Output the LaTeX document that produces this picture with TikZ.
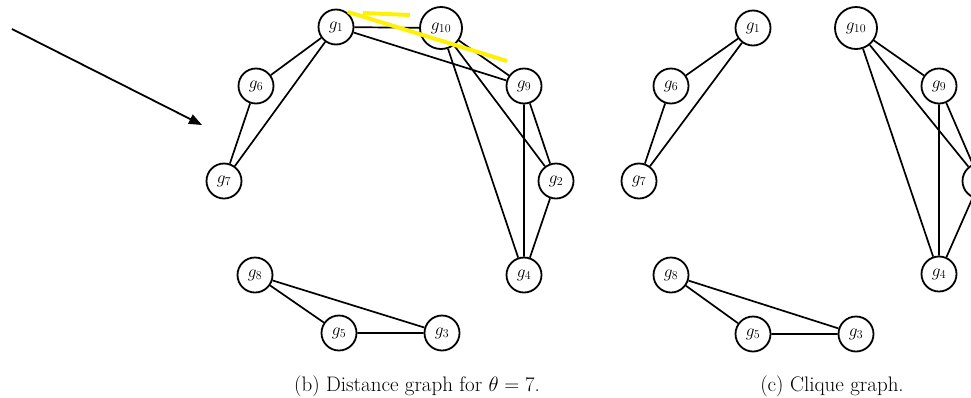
\documentclass[tikz,border=0pt]{standalone}
\usetikzlibrary{arrows.meta}
\begin{document}
\begin{tikzpicture}[x=1pt,y=-1pt,
  vtx/.style={circle,draw,line width=1.8pt,minimum size=35pt,inner sep=0pt,
    font=\fontsize{18}{20}\selectfont},
  wide/.style={minimum size=42pt},
  edge/.style={line width=1.7pt},
  hl/.style={yellow,line width=4pt},
  captext/.style={font=\fontsize{21}{24}\selectfont}]
\clip (0,0) rectangle (971,397);
\fill[white] (0,0) rectangle (971,397);
% ---------- (b) ----------
\node[vtx] (b1) at (336,27) {$g_1$};
\node[vtx,wide] (b10) at (441,28) {$g_{10}$};
\node[vtx] (b6) at (256,86) {$g_6$};
\node[vtx] (b9) at (524,86) {$g_9$};
\node[vtx] (b7) at (224,181) {$g_7$};
\node[vtx] (b2) at (556,181) {$g_2$};
\node[vtx] (b8) at (255,275) {$g_8$};
\node[vtx] (b4) at (524,275) {$g_4$};
\node[vtx] (b5) at (339,333) {$g_5$};
\node[vtx] (b3) at (442,333) {$g_3$};
\draw[edge] (b1)--(b10) (b1)--(b6) (b1)--(b7) (b6)--(b7) (b1)--(b9)
  (b10)--(b9) (b10)--(b2) (b10)--(b4) (b9)--(b2) (b9)--(b4) (b2)--(b4)
  (b8)--(b5) (b8)--(b3) (b5)--(b3);
\node[captext] (capb) at (417,386) {(b) Distance graph for $\theta=7$.};
% ---------- (c) ----------
\node[vtx] (c1) at (753,28) {$g_1$};
\node[vtx,wide] (c10) at (856,28) {$g_{10}$};
\node[vtx] (c6) at (671,86) {$g_6$};
\node[vtx] (c9) at (939,86) {$g_9$};
\node[vtx] (c7) at (639,181) {$g_7$};
\node[vtx] (c2) at (980,181) {$g_2$};
\node[vtx] (c8) at (671,275) {$g_8$};
\node[vtx] (c4) at (939,274) {$g_4$};
\node[vtx] (c5) at (753,334) {$g_5$};
\node[vtx] (c3) at (856,334) {$g_3$};
\draw[edge] (c1)--(c6) (c1)--(c7) (c6)--(c7)
  (c10)--(c9) (c10)--(c2) (c10)--(c4) (c9)--(c2) (c9)--(c4) (c2)--(c4)
  (c8)--(c5) (c8)--(c3) (c5)--(c3);
\node[captext] (capc) at (832,386) {(c) Clique graph.};
% ---------- annotations ----------
\coordinate (a0) at (12,29);
\coordinate (a1) at (202,125);
\draw[line width=1.8pt,-{Triangle[length=13pt,width=10pt]}] (a0)--(a1);
\coordinate (y1) at (363,13);
\coordinate (y2) at (410,15);
\coordinate (y3) at (348,12);
\coordinate (y4) at (507,61);
\draw[hl] (y1)--(y2);
\draw[hl] (y3)--(y4);
\end{tikzpicture}
\end{document}
